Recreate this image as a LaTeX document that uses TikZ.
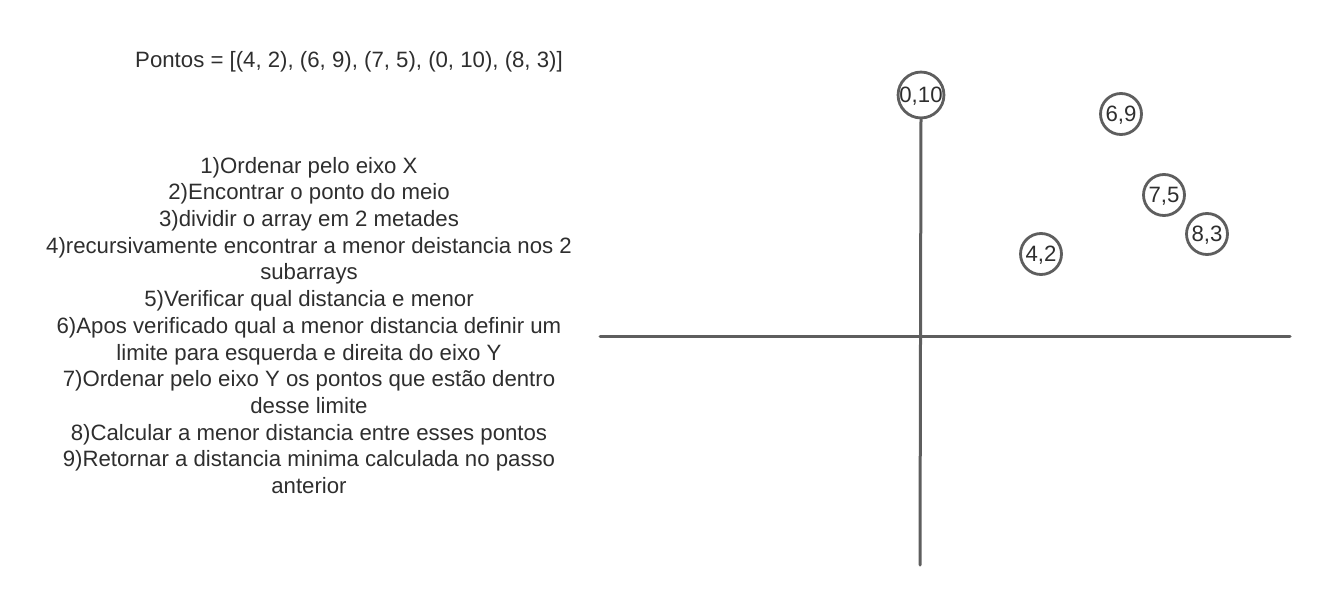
\documentclass[tikz,border=0pt]{standalone}
\usepackage{fontspec}
\setmainfont{Liberation Sans}
\definecolor{tinta}{HTML}{2E2E2E}
\definecolor{eixo}{HTML}{5E5E5E}
\begin{document}
\begin{tikzpicture}[x=0.5pt,y=-0.5pt,line cap=round,line join=round,
  texto/.style={text=tinta,font=\fontsize{11.1}{13.35}\selectfont},
  ponto/.style={texto,circle,draw=eixo,line width=1.4pt,inner sep=0pt,minimum size=20.5pt,text depth=0pt},
  linha/.style={draw=eixo,line width=1.5pt}]
  \useasboundingbox (0,0) rectangle (1330,605);
  % enunciado
  \node[texto] (pontos) at (349,62) {Pontos = [(4, 2), (6, 9), (7, 5), (0, 10), (8, 3)]};
  \node[texto,align=center,anchor=north] (passos) at (309,150) {1)Ordenar pelo eixo X\\
    2)Encontrar o ponto do meio\\
    3)dividir o array em 2 metades\\
    4)recursivamente encontrar a menor deistancia nos 2\\
    subarrays\\
    5)Verificar qual distancia e menor\\
    6)Apos verificado qual a menor distancia definir um\\
    limite para esquerda e direita do eixo Y\\
    7)Ordenar pelo eixo Y os pontos que estão dentro\\
    desse limite\\
    8)Calcular a menor distancia entre esses pontos\\
    9)Retornar a distancia minima calculada no passo\\
    anterior};
  % pontos
  \node[ponto] (p010) at (921,95) {0,10};
  \node[ponto] (p69) at (1121,114) {6,9};
  \node[ponto] (p75) at (1164,195) {7,5};
  \node[ponto] (p83) at (1207,234) {8,3};
  \node[ponto] (p42) at (1041,254) {4,2};
  % eixos
  \coordinate (xesq) at (600,336);
  \coordinate (xdir) at (1290,336);
  \coordinate (ybaixo) at (920,565);
  \draw[linha] (xesq) -- (xdir);
  \draw[linha] (p010.south) -- (ybaixo);
\end{tikzpicture}
\end{document}
